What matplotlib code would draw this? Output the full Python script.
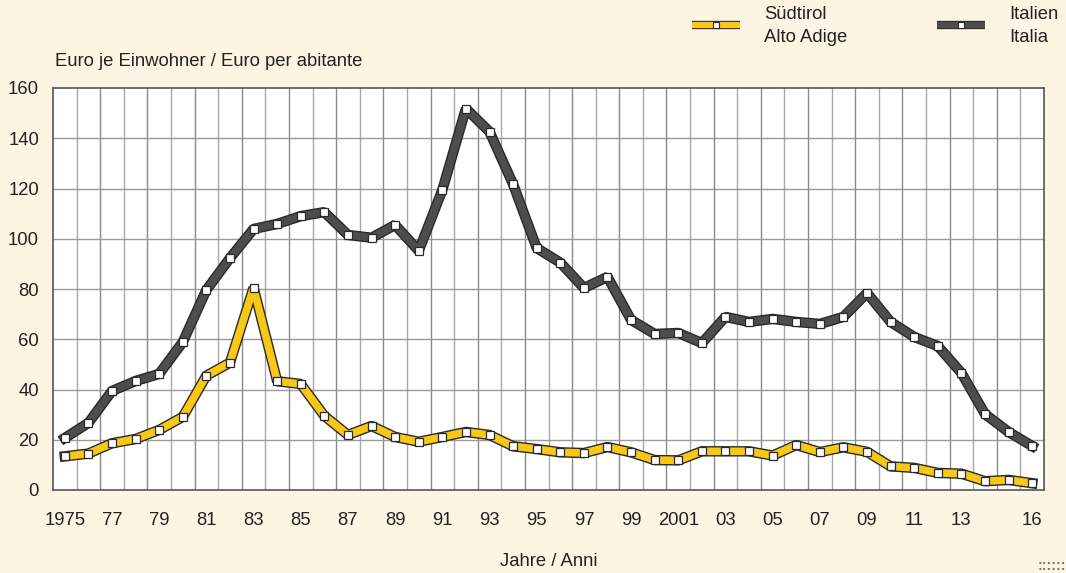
"""Public spending per inhabitant: South Tyrol vs Italy, 1975-2016."""

import matplotlib

matplotlib.use("Agg")
import matplotlib.pyplot as plt
import matplotlib.patheffects as pe
from matplotlib.lines import Line2D

plt.rcParams["font.family"] = ["Liberation Sans", "DejaVu Sans"]

YEARS = list(range(1975, 2017))
ITALIEN = [20.7, 26.7, 39.4, 43.4, 46.2, 58.9, 79.6, 92.3, 103.9, 105.9,
           109.0, 110.6, 101.5, 100.4, 105.5, 95.2, 119.4, 151.8, 142.6, 121.7,
           96.3, 90.5, 80.4, 84.8, 67.7, 62.1, 62.5, 58.5, 68.9, 66.9,
           68.1, 66.9, 66.1, 68.9, 78.4, 66.9, 60.9, 57.3, 46.6, 30.2,
           23.1, 17.5]
SUEDTIROL = [13.4, 14.5, 18.6, 20.3, 23.9, 29.1, 45.5, 50.7, 80.5, 43.3,
             42.2, 29.5, 21.9, 25.5, 21.1, 19.2, 21.1, 23.1, 21.9, 17.4,
             16.3, 15.0, 14.7, 17.1, 15.0, 11.9, 11.8, 15.4, 15.4, 15.4,
             13.7, 17.9, 15.1, 17.0, 15.2, 9.4, 8.8, 6.8, 6.5, 3.5,
             4.0, 2.7]
TICK_YEARS = [1975, 1977, 1979, 1981, 1983, 1985, 1987, 1989, 1991, 1993, 1995,
              1997, 1999, 2001, 2003, 2005, 2007, 2009, 2011, 2013, 2016]
TICK_LABELS = ["1975", "77", "79", "81", "83", "85", "87", "89", "91", "93", "95",
               "97", "99", "2001", "03", "05", "07", "09", "11", "13", "16"]

BG = "#fdf5e3"
EDGE = "#2a2a2a"
TEXT = "#222222"
FS = 13.3


def draw_series(ax, values, color):
    x = range(len(values))
    ax.plot(x, values, color=color, lw=5.5, solid_joinstyle="bevel", zorder=3,
            path_effects=[pe.Stroke(linewidth=7.5, foreground=EDGE,
                                    joinstyle="bevel"), pe.Normal()])
    ax.plot(x, values, ls="none", marker="s", ms=5.5, mfc="white", mec=EDGE,
            mew=0.9, zorder=4)


def main() -> None:
    fig = plt.figure(figsize=(10.66, 5.73), dpi=100, facecolor=BG)
    ax = fig.add_axes([53 / 1066, 1 - 490 / 573, 991 / 1066, 402 / 573])
    ax.set_facecolor("white")

    draw_series(ax, ITALIEN, "#4d4d4d")
    draw_series(ax, SUEDTIROL, "#f7c815")

    n = len(YEARS)
    ax.set_xlim(-0.5, n - 0.5)
    ax.set_ylim(0, 160)
    for k in range(1, n):
        ax.axvline(k - 0.5, color="#a8a8a8" if k % 2 else "#8a8a8a", lw=1.0, zorder=1)
    for v in range(20, 160, 20):
        ax.axhline(v, color="#9a9a9a", lw=1.0, zorder=1)

    ax.set_yticks(range(0, 161, 20))
    ax.set_xticks([YEARS.index(y) for y in TICK_YEARS])
    ax.set_xticklabels(TICK_LABELS)
    ax.tick_params(length=0, labelsize=FS, colors=TEXT)
    ax.tick_params(axis="x", pad=16)
    ax.tick_params(axis="y", pad=10)
    for side in ax.spines.values():
        side.set_color("#555555")
        side.set_linewidth(1.2)

    fig.text(55 / 1066, 1 - 62 / 573, "Euro je Einwohner / Euro per abitante",
             fontsize=FS, color=TEXT, va="center")
    fig.text(549 / 1066, 1 - 562 / 573, "Jahre / Anni", fontsize=FS,
             color=TEXT, ha="center", va="center")
    fig.text(1066 / 1066, 1 - 566 / 573, "::::::", fontsize=10, color="#777777",
             ha="right", va="center", fontweight="bold")

    # legend drawn by hand at the top right
    for x0, color, label in [(692, "#f7c815", "Südtirol\nAlto Adige"),
                             (937, "#4d4d4d", "Italien\nItalia")]:
        xs = [x0 / 1066, (x0 + 48) / 1066]
        ys = [1 - 25 / 573] * 2
        fig.add_artist(Line2D(xs, ys, color=color, lw=4.5, solid_capstyle="butt",
                              path_effects=[pe.Stroke(linewidth=6.0, foreground=EDGE,
                                                      capstyle="butt"),
                                            pe.Normal()]))
        fig.add_artist(Line2D([sum(xs) / 2], [ys[0]], ls="none", marker="s", ms=4.5,
                              mfc="white", mec=EDGE, mew=0.8))
        fig.text((x0 + 72) / 1066, 1 - 26 / 573, label, fontsize=FS,
                 color=TEXT, va="center", linespacing=1.4)

    fig.savefig("out.png", dpi=100, facecolor=BG)


if __name__ == "__main__":
    main()
